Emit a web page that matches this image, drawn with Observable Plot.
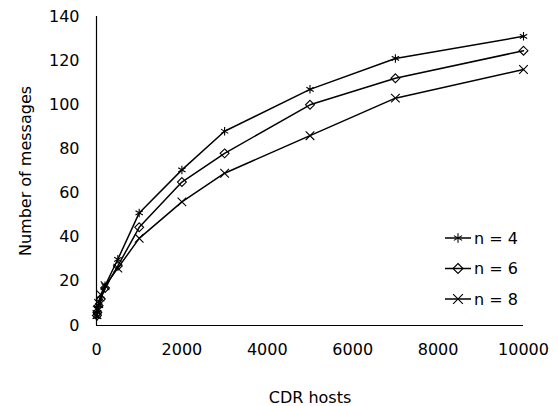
<!DOCTYPE html>
<html>
<head>
<meta charset="utf-8">
<script src="https://cdn.jsdelivr.net/npm/d3@7"></script>
<script src="https://cdn.jsdelivr.net/npm/@observablehq/plot@0.6"></script>
<style>
  body { margin: 0; background: #fff; }
  #chart { position: relative; width: 558px; height: 406px; }
</style>
</head>
<body>
<div id="chart"></div>
<script>
const hosts = [10, 20, 50, 100, 200, 500, 1000, 2000, 3000, 5000, 7000, 10000];
const n4 = [4, 6, 9, 12, 18, 30, 51, 70.5, 88, 107, 121, 131];
const n6 = [4.5, 6, 9, 12, 17, 27, 44.5, 65, 78, 100, 112, 124.5];
const n8 = [5, 7, 10, 14, 18, 26, 39.5, 56, 69, 86, 103, 116];
const seriesNames = ["n = 4", "n = 6", "n = 8"];
const seriesSymbols = ["asterisk", "diamond2", "times"];
const xTicks = [0, 2000, 4000, 6000, 8000, 10000];
const yTicks = [0, 20, 40, 60, 80, 100, 120, 140];

const rows = [];
[n4, n6, n8].forEach((vals, i) => {
  vals.forEach((v, j) => rows.push({series: seriesNames[i], x: hosts[j], y: v}));
});

const font = "DejaVu Sans";
const plot = Plot.plot({
  width: 558,
  height: 406,
  marginLeft: 96,
  marginRight: 35,
  marginTop: 16,
  marginBottom: 81,
  style: {fontFamily: font, fontSize: "16px", color: "#000", background: "#fff"},
  x: {domain: [0, 10000], ticks: xTicks, tickSize: 0, tickPadding: 18, tickFormat: d => String(d), label: null},
  y: {domain: [0, 140], ticks: yTicks, tickSize: 0, tickPadding: 17, tickFormat: d => String(d), label: null},
  symbol: {domain: seriesNames, range: seriesSymbols},
  marks: [
    Plot.ruleX([0], {stroke: "#000", strokeWidth: 1.2}),
    Plot.ruleY([0], {stroke: "#000", strokeWidth: 1.2}),
    Plot.line(rows, {x: "x", y: "y", z: "series", stroke: "#000", strokeWidth: 1.5}),
    Plot.dot(rows, {x: "x", y: "y", symbol: "series", stroke: "#000", fill: "none", r: 4, strokeWidth: 1.1}),
    Plot.text(["Number of messages"], {frameAnchor: "left", textAnchor: "middle", dx: -71, rotate: -90, fontSize: 16, fill: "#000"}),
    Plot.text(["CDR hosts"], {frameAnchor: "bottom", textAnchor: "middle", dy: 77, fontSize: 16, fill: "#000"})
  ]
});
document.getElementById("chart").appendChild(plot);

// legend inside the plot area
const svg = d3.select(plot);
const legendX = 445, legendY0 = 238, legendStep = 30.5;
seriesNames.forEach((name, i) => {
  const g = svg.append("g").attr("transform", `translate(${legendX},${legendY0 + i * legendStep})`);
  g.append("line").attr("x1", 0).attr("x2", 26).attr("y1", 0).attr("y2", 0)
    .attr("stroke", "#000").attr("stroke-width", 1.5);
  const sym = {asterisk: d3.symbolAsterisk, diamond2: d3.symbolDiamond2, times: d3.symbolTimes}[seriesSymbols[i]];
  g.append("path").attr("transform", "translate(13,0)")
    .attr("d", d3.symbol(sym, 64)())
    .attr("fill", "none").attr("stroke", "#000").attr("stroke-width", 1.1);
  g.append("text").attr("x", 29).attr("y", 0).attr("dy", "0.35em")
    .attr("text-anchor", "start")
    .attr("font-family", font).attr("font-size", 16).attr("fill", "#000").text(name);
});
</script>
</body>
</html>
